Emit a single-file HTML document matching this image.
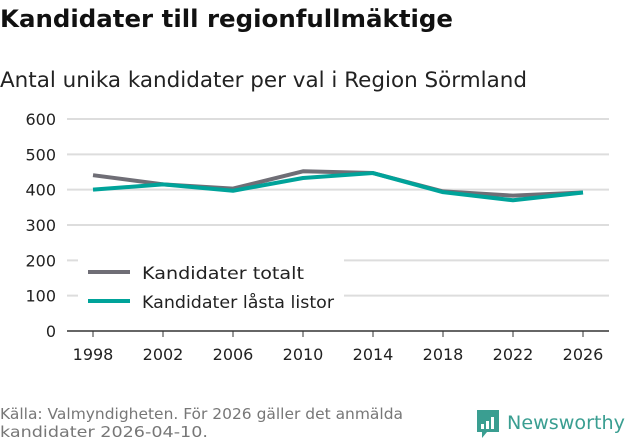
<!DOCTYPE html>
<html><head><meta charset="utf-8"><style>
body{margin:0;width:631px;height:439px;background:#fff;font-family:"DejaVu Sans","Liberation Sans",sans-serif;overflow:hidden}
svg text{font-family:"DejaVu Sans","Liberation Sans",sans-serif}
</style></head><body>
<svg width="631" height="439">
<text x="0" y="27" font-size="24" font-weight="bold" fill="#111" textLength="453" lengthAdjust="spacingAndGlyphs">Kandidater till regionfullmäktige</text>
<text x="0" y="87" font-size="21" fill="#222" textLength="527" lengthAdjust="spacingAndGlyphs">Antal unika kandidater per val i Region Sörmland</text>
<g id="grid"></g><g id="series"></g>
<g>
<rect x="78" y="258" width="266" height="62" fill="#fff"/>
<line x1="88" y1="272" x2="130" y2="272" stroke="#6f6e76" stroke-width="4"/>
<text x="142" y="279" font-size="17" fill="#222" textLength="162" lengthAdjust="spacingAndGlyphs">Kandidater totalt</text>
<line x1="88" y1="301" x2="130" y2="301" stroke="#00a39a" stroke-width="4"/>
<text x="142" y="308" font-size="17" fill="#222" textLength="192" lengthAdjust="spacingAndGlyphs">Kandidater låsta listor</text>
</g>
<text x="0" y="419" font-size="15" fill="#777" textLength="403" lengthAdjust="spacingAndGlyphs">Källa: Valmyndigheten. För 2026 gäller det anmälda</text>
<text x="0" y="437" font-size="15" fill="#777" textLength="208" lengthAdjust="spacingAndGlyphs">kandidater 2026-04-10.</text>
<g>
<path d="M477 410h22v22h-12l-5 6v-6h-5z" fill="#3a9e91"/>
<rect x="481" y="424" width="3" height="5" fill="#fff"/><rect x="486" y="421" width="3" height="8" fill="#fff"/><rect x="491" y="417" width="3" height="12" fill="#fff"/>
<text x="507" y="429" font-size="19" fill="#3a9e91" textLength="118" lengthAdjust="spacingAndGlyphs">Newsworthy</text>
</g>
</svg>
<script>
const years=[1998,2002,2006,2010,2014,2018,2022,2026];
const totalt=[441,415,403,452,447,395,383,392];
const lasta=[400,415,397,433,447,393,370,392];
const yTicks=[0,100,200,300,400,500,600];
const NS="http://www.w3.org/2000/svg";
const x=i=>93+i*70, y=v=>331-v*212/600;
const grid=document.getElementById('grid'), ser=document.getElementById('series');
function mk(tag,attrs,parent){const e=document.createElementNS(NS,tag);for(const k in attrs)e.setAttribute(k,attrs[k]);parent.appendChild(e);return e;}
yTicks.forEach(t=>{
 const l=mk('line',{x1:67,x2:609,y1:y(t),y2:y(t),stroke:t===0?'#333':'#ddd','stroke-width':t===0?1.5:2},grid);
 
 
 const tx=mk('text',{x:56,y:y(t)+6,'font-size':16,fill:'#222','text-anchor':'end'},grid);tx.textContent=t;
 
 
});
years.forEach((yr,i)=>{
 const tk=mk('line',{x1:x(i),x2:x(i),y1:331,y2:337,stroke:'#333'},grid);
 
 
 const tx=mk('text',{x:x(i),y:360,'font-size':16,fill:'#222','text-anchor':'middle'},grid);tx.textContent=yr;
 
 
});
[[totalt,'#6f6e76','line-totalt'],[lasta,'#00a39a','line-lasta']].forEach(([d,c,n])=>{
 const p=mk('polyline',{points:d.map((v,i)=>x(i)+','+y(v)).join(' '),fill:'none',stroke:c,'stroke-width':4,'stroke-linejoin':'round'},ser);
 
 
});
</script>
</body></html>
